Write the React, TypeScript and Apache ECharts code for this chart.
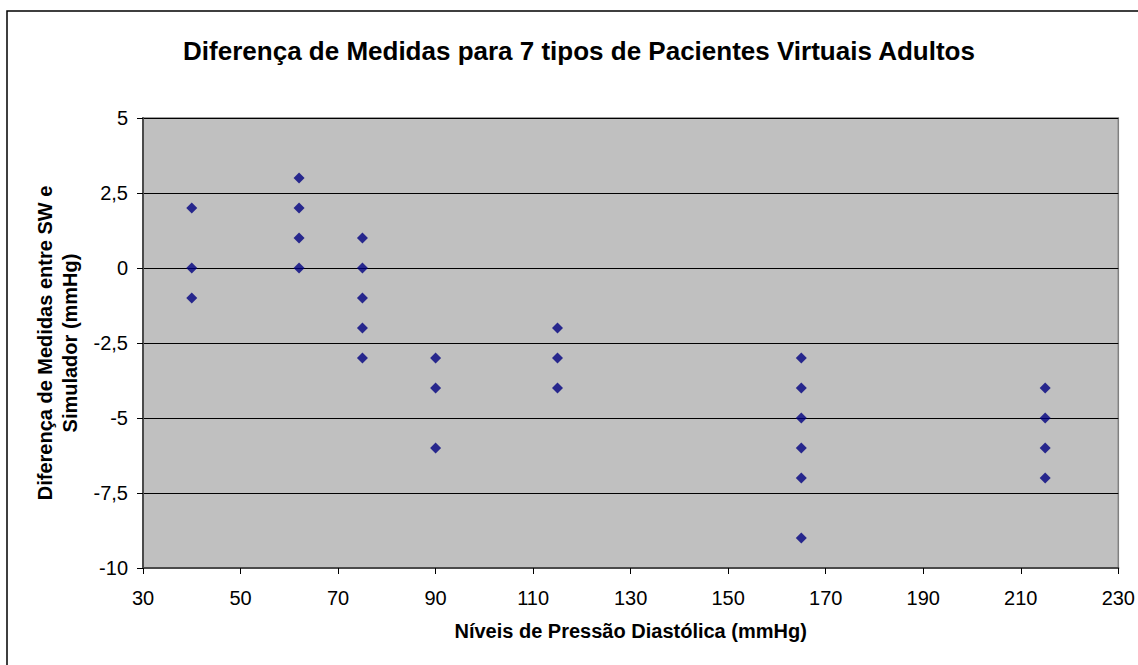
import React, { useEffect, useRef } from "react";
import * as echarts from "echarts";

const titleText = "Diferença de Medidas para 7 tipos de Pacientes Virtuais Adultos";
const xName = "Níveis de Pressão Diastólica (mmHg)";
const yName = "Diferença de Medidas entre SW e\nSimulador (mmHg)";

const pressureLevels = [40, 62, 75, 90, 115, 165, 215];
const differences: number[][] = [
  [2, 0, -1],
  [3, 2, 1, 0],
  [1, 0, -1, -2, -3],
  [-3, -4, -6],
  [-2, -3, -4],
  [-3, -4, -5, -6, -7, -9],
  [-4, -5, -6, -7],
];

const FONT = "'Liberation Sans', Arial, sans-serif";

export default function App() {
  const ref = useRef<HTMLDivElement>(null);
  useEffect(() => {
    if (!ref.current) return;
    const chart = echarts.init(ref.current, undefined, { renderer: "svg" });
    const points: number[][] = [];
    pressureLevels.forEach((x, i) => {
      differences[i].forEach((y) => points.push([x, y]));
    });
    chart.setOption({
      animation: false,
      backgroundColor: "#ffffff",
      textStyle: { fontFamily: FONT },
      title: {
        text: titleText,
        left: 574,
        top: 33,
        textAlign: "center",
        textStyle: { fontFamily: FONT, fontSize: 26, fontWeight: "bold", color: "#000" },
      },
      graphic: [
        {
          type: "rect",
          shape: { x: 7, y: 11, width: 1200, height: 700 },
          style: { fill: "none", stroke: "#000", lineWidth: 1.5 },
          silent: true,
          z: -1,
        },
      ],
      grid: {
        left: 143,
        right: 18,
        top: 118,
        bottom: 97,
        show: true,
        backgroundColor: "#c0c0c0",
        borderColor: "#808080",
        borderWidth: 1.5,
      },
      xAxis: {
        type: "value",
        min: 30,
        max: 230,
        interval: 20,
        name: xName,
        nameLocation: "middle",
        nameGap: 53,
        nameTextStyle: { fontFamily: FONT, fontSize: 20, fontWeight: "bold", color: "#000" },
        axisLine: { show: true, onZero: false, lineStyle: { color: "#4a4a4a", width: 2 } },
        axisTick: { show: true, inside: false, length: 6, lineStyle: { color: "#000" } },
        axisLabel: { fontFamily: FONT, fontSize: 20, color: "#000", margin: 20 },
        splitLine: { show: false },
      },
      yAxis: {
        type: "value",
        min: -10,
        max: 5,
        interval: 2.5,
        name: yName,
        nameLocation: "middle",
        nameGap: 61,
        nameTextStyle: { fontFamily: FONT, fontSize: 20, fontWeight: "bold", color: "#000", lineHeight: 25 },
        axisLine: { show: true, onZero: false, lineStyle: { color: "#4a4a4a", width: 2 } },
        axisTick: { show: true, inside: false, length: 6, lineStyle: { color: "#000" } },
        axisLabel: {
          fontFamily: FONT,
          fontSize: 20,
          color: "#000",
          margin: 15,
          formatter: (v: number) => String(v).replace(".", ","),
        },
        splitLine: { show: true, lineStyle: { color: "#000", width: 1 } },
      },
      series: [
        {
          type: "scatter",
          data: points,
          symbol: "diamond",
          symbolSize: 11,
          itemStyle: { color: "#000080" },
        },
      ],
    });
    return () => chart.dispose();
  }, []);
  return (
    <div
      ref={ref}
      style={{ position: "fixed", left: 0, top: 0, width: 1138, height: 665 }}
    />
  );
}
